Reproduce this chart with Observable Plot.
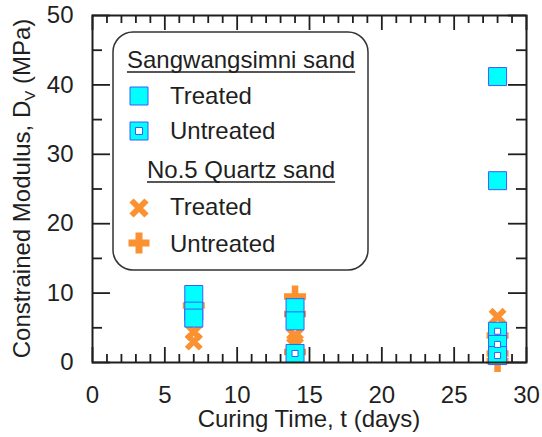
<!DOCTYPE html>
<html>
<head>
<meta charset="utf-8">
<script src="https://cdn.jsdelivr.net/npm/d3@7"></script>
<script src="https://cdn.jsdelivr.net/npm/@observablehq/plot@0.6"></script>
<style>
  html, body { margin: 0; padding: 0; background: #fff; }
  #chart { width: 542px; height: 437px; }
</style>
</head>
<body>
<div id="chart"></div>
<script>
// Constrained modulus vs. curing time for two sands
const sangTreatedT   = [7, 7, 7, 14, 14, 14, 28, 28];
const sangTreatedD   = [9.8, 7.4, 6.4, 14.8, 7.9, 6.0, 41.2, 26.2];
const sangUntreatedT = [14, 28, 28, 28];
const sangUntreatedD = [1.3, 4.5, 2.6, 1.0];
const quartzTreatedT = [7, 7, 14, 14, 28];
const quartzTreatedD = [4.4, 3.0, 3.9, 2.9, 6.6];
const quartzUntreatedT = [7, 14, 14, 14, 28, 28, 28];
const quartzUntreatedD = [8.2, 9.5, 7.0, 1.5, 3.9, 1.3, 0.2];

const xMajor = [0, 5, 10, 15, 20, 25, 30];
const xMinor = d3.range(1, 30).filter(d => d % 5 !== 0);
const yMajor = [0, 10, 20, 30, 40, 50];
const yMinor = [5, 15, 25, 35, 45];

const pts = (ts, ds) => ts.map((t, i) => ({t, d: ds[i]}));
const sangTreated = pts(sangTreatedT, sangTreatedD);
const sangUntreated = pts(sangUntreatedT, sangUntreatedD);
const quartzTreated = pts(quartzTreatedT, quartzTreatedD);
const quartzUntreated = pts(quartzUntreatedT, quartzUntreatedD);

const CYAN = "#00ffff", BLUE = "#3b5bff", ORANGE = "#fb9130", INK = "#1f1f1f";
const FS = 24;

// marker shapes (size is the symbol area, as in d3.symbol)
const squareSym = {draw(ctx, size) { const h = Math.sqrt(size) / 2; ctx.rect(-h, -h, 2 * h, 2 * h); }};
const timesSym = {draw(ctx, size) { const h = Math.sqrt(size) / 2;
  ctx.moveTo(-h, -h); ctx.lineTo(h, h); ctx.moveTo(h, -h); ctx.lineTo(-h, h); }};
const plusSym = {draw(ctx, size) { const h = Math.sqrt(size) / 2;
  ctx.moveTo(-h, 0); ctx.lineTo(h, 0); ctx.moveTo(0, -h); ctx.lineTo(0, h); }};
const rFor = side => side / Math.sqrt(Math.PI);

const M = {top: 15, right: 16, bottom: 75, left: 92};
const W = 542, H = 437;
const innerW = W - M.left - M.right, innerH = H - M.top - M.bottom;
const majX = 15, minX = 8, majY = 18, minY = 10;
const tickStyle = {stroke: INK, strokeWidth: 1.8};

const plot = Plot.plot({
  width: W, height: H,
  marginTop: M.top, marginRight: M.right, marginBottom: M.bottom, marginLeft: M.left,
  style: {fontFamily: "'Liberation Sans', Arial, sans-serif", fontSize: FS + "px", color: INK, background: "#fff"},
  x: {domain: [0, 30]},
  y: {domain: [0, 50]},
  marks: [
    // inward ticks on all four sides
    Plot.tickX(xMajor, {x: d => d, insetTop: innerH - majX, ...tickStyle}),
    Plot.tickX(xMinor, {x: d => d, insetTop: innerH - minX, ...tickStyle}),
    Plot.tickX(xMajor, {x: d => d, insetBottom: innerH - majX, ...tickStyle}),
    Plot.tickX(xMinor, {x: d => d, insetBottom: innerH - minX, ...tickStyle}),
    Plot.tickY(yMajor, {y: d => d, insetRight: innerW - majY, ...tickStyle}),
    Plot.tickY(yMinor, {y: d => d, insetRight: innerW - minY, ...tickStyle}),
    Plot.tickY(yMajor, {y: d => d, insetLeft: innerW - majY, ...tickStyle}),
    Plot.tickY(yMinor, {y: d => d, insetLeft: innerW - minY, ...tickStyle}),
    Plot.axisX(xMajor, {tickSize: 0, tickPadding: 23, label: null, fill: INK}),
    Plot.axisY(yMajor, {tickSize: 0, tickPadding: 19, label: null, fill: INK}),
    // No.5 Quartz sand
    Plot.dot(quartzUntreated, {x: "t", y: "d", symbol: plusSym, r: rFor(22), fill: "none", stroke: ORANGE, strokeWidth: 6.5}),
    Plot.dot(quartzTreated, {x: "t", y: "d", symbol: timesSym, r: rFor(14), fill: "none", stroke: ORANGE, strokeWidth: 5.5}),
    // Sangwangsimni sand
    Plot.dot(sangTreated, {x: "t", y: "d", symbol: squareSym, r: rFor(18), fill: CYAN, stroke: BLUE, strokeWidth: 1}),
    Plot.dot(sangUntreated, {x: "t", y: "d", symbol: squareSym, r: rFor(18), fill: CYAN, stroke: BLUE, strokeWidth: 1}),
    Plot.dot(sangUntreated, {x: "t", y: "d", symbol: squareSym, r: rFor(6), fill: "#fff", stroke: BLUE, strokeWidth: 1}),
    Plot.frame({stroke: INK, strokeWidth: 2})
  ]
});

// attach first so text lengths can be measured
document.getElementById("chart").append(plot);

const svg = d3.select(plot);
const font = "'Liberation Sans', Arial, sans-serif";

// axis titles
svg.append("text")
  .attr("x", M.left + innerW / 2).attr("y", 427)
  .attr("text-anchor", "middle").attr("fill", INK)
  .attr("font-family", font).attr("font-size", FS)
  .text("Curing Time, t (days)");

const yTitle = svg.append("text")
  .attr("transform", `translate(30,${M.top + innerH / 2}) rotate(-90)`)
  .attr("text-anchor", "middle").attr("fill", INK)
  .attr("font-family", font).attr("font-size", FS);
yTitle.append("tspan").text("Constrained Modulus, D");
yTitle.append("tspan").attr("font-size", 15).attr("dy", 5).text("V");
yTitle.append("tspan").attr("dy", -5).text(" (MPa)");

// legend box
const lg = svg.append("g").attr("font-family", font).attr("font-size", FS)
  .attr("fill", INK).attr("text-anchor", "start");
lg.append("rect").attr("x", 113).attr("y", 32).attr("width", 255).attr("height", 238)
  .attr("rx", 20).attr("fill", "#fff").attr("stroke", "#333").attr("stroke-width", 1.5);

const heading = (label, x, y) => {
  const t = lg.append("text").attr("x", x).attr("y", y).text(label);
  const w = t.node().getComputedTextLength();
  lg.append("line").attr("x1", x).attr("x2", x + w).attr("y1", y + 4).attr("y2", y + 4)
    .attr("stroke", INK).attr("stroke-width", 1.5);
};
const sym = (type, side) => d3.symbol(type, side * side)();

heading("Sangwangsimni sand", 127, 68);
lg.append("path").attr("d", sym(squareSym, 18)).attr("transform", "translate(139,96)")
  .attr("fill", CYAN).attr("stroke", BLUE).attr("stroke-width", 1);
lg.append("text").attr("x", 170).attr("y", 104).text("Treated");
lg.append("path").attr("d", sym(squareSym, 18)).attr("transform", "translate(139,131)")
  .attr("fill", CYAN).attr("stroke", BLUE).attr("stroke-width", 1);
lg.append("path").attr("d", sym(squareSym, 7)).attr("transform", "translate(139,131)")
  .attr("fill", "#fff").attr("stroke", BLUE).attr("stroke-width", 1);
lg.append("text").attr("x", 170).attr("y", 139).text("Untreated");

heading("No.5 Quartz sand", 147, 178);
lg.append("path").attr("d", sym(timesSym, 15)).attr("transform", "translate(139,208)")
  .attr("fill", "none").attr("stroke", ORANGE).attr("stroke-width", 6);
lg.append("text").attr("x", 170).attr("y", 215).text("Treated");
lg.append("path").attr("d", sym(plusSym, 21)).attr("transform", "translate(139,243)")
  .attr("fill", "none").attr("stroke", ORANGE).attr("stroke-width", 7);
lg.append("text").attr("x", 170).attr("y", 252).text("Untreated");
</script>
</body>
</html>
